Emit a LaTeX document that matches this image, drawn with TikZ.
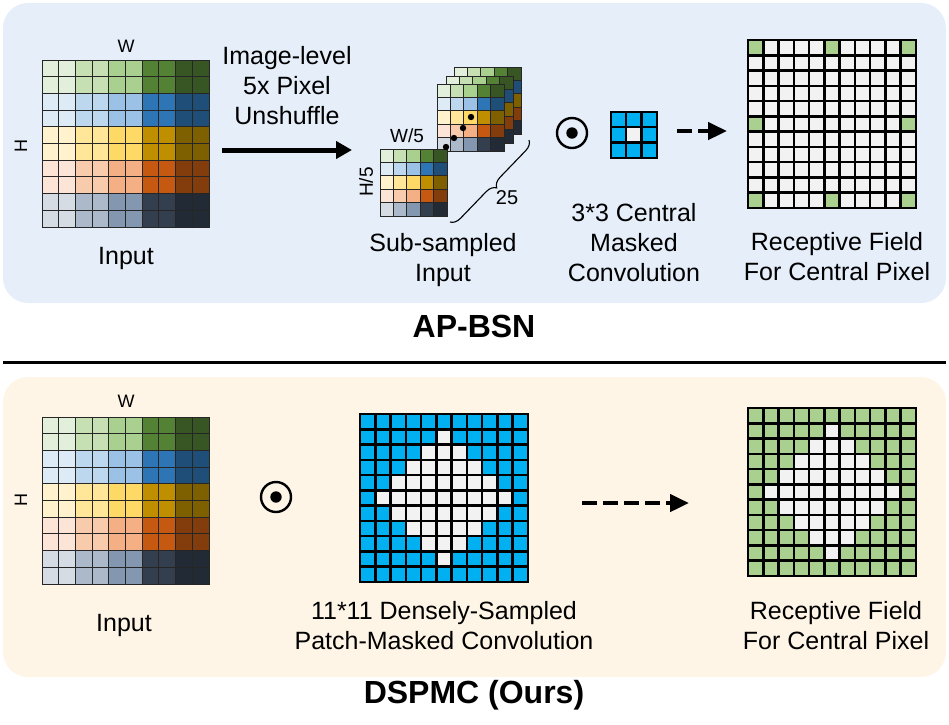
\documentclass[tikz,border=0pt]{standalone}
\usepackage{fontspec}
\setmainfont{Liberation Sans}
\usetikzlibrary{arrows.meta,decorations.pathreplacing}

% image colours: row groups (green, blue, yellow, orange, slate) x 5 shades
\definecolor{gc00}{HTML}{E2EFDA}\definecolor{gc01}{HTML}{C6E0B4}\definecolor{gc02}{HTML}{A9D08E}\definecolor{gc03}{HTML}{548235}\definecolor{gc04}{HTML}{375623}
\definecolor{gc10}{HTML}{DDEBF7}\definecolor{gc11}{HTML}{BDD7EE}\definecolor{gc12}{HTML}{9BC2E6}\definecolor{gc13}{HTML}{2E75B6}\definecolor{gc14}{HTML}{1F4E78}
\definecolor{gc20}{HTML}{FFF2CC}\definecolor{gc21}{HTML}{FFE699}\definecolor{gc22}{HTML}{FFD966}\definecolor{gc23}{HTML}{BF8F00}\definecolor{gc24}{HTML}{7F6000}
\definecolor{gc30}{HTML}{FCE4D6}\definecolor{gc31}{HTML}{F8CBAD}\definecolor{gc32}{HTML}{F4B084}\definecolor{gc33}{HTML}{C65911}\definecolor{gc34}{HTML}{833C0B}
\definecolor{gc40}{HTML}{D6DCE4}\definecolor{gc41}{HTML}{ACB9CA}\definecolor{gc42}{HTML}{8497B0}\definecolor{gc43}{HTML}{333F4F}\definecolor{gc44}{HTML}{222B35}
\definecolor{mskblue}{HTML}{00B0F0}
\definecolor{mskwhite}{HTML}{F2F2F2}
\definecolor{rfgreen}{HTML}{A9D08E}
\definecolor{topbg}{HTML}{E5EEF9}
\definecolor{botbg}{HTML}{FEF5E7}

% 10x10 input image: x, y, cell
\newcommand{\imggrid}[3]{%
  \foreach \r in {0,...,9} {
    \foreach \c in {0,...,9} {
      \pgfmathtruncatemacro{\gr}{\r/2}
      \pgfmathtruncatemacro{\gc}{\c/2}
      \filldraw[fill=gc\gr\gc, draw=black!85, line width=1pt]
        ({#1+\c*#3},{#2+\r*#3}) rectangle ++(#3,#3);
    }
  }
}
% 5x5 sub-sampled image: x, y, cell
\newcommand{\subgrid}[3]{%
  \foreach \r in {0,...,4} {
    \foreach \c in {0,...,4} {
      \filldraw[fill=gc\r\c, draw=black!85, line width=1pt]
        ({#1+\c*#3},{#2+\r*#3}) rectangle ++(#3,#3);
    }
  }
}

\begin{document}
\begin{tikzpicture}[x=1pt,y=-1pt,
  lbl/.style={font=\fontsize{25}{30}\selectfont, align=center, inner sep=0pt},
  small/.style={font=\fontsize{18}{20}\selectfont, inner sep=0pt},
  ttl/.style={font=\fontsize{32}{36}\selectfont\bfseries, inner sep=0pt},
  bigarrow/.style={line width=5pt, -{Triangle[length=16pt,width=17pt]}},
  dasharrow/.style={line width=4.5pt, dash pattern=on 15pt off 6pt, -{Triangle[length=19pt,width=17pt]}},
  mcell/.style={draw=black, line width=2.6pt},
]
\useasboundingbox (0,0) rectangle (949,724);

% panels
\fill[topbg, rounded corners=25pt] (3,3) rectangle (946,303);
\fill[botbg, rounded corners=25pt] (3,377) rectangle (946,677);
\draw[line width=3pt] (3,362) -- (946,362);

%%% AP-BSN
\imggrid{42}{60}{16.7}
\node[small] (wTop) at (126,46) {W};
\node[small, rotate=90] (hTop) at (21,146) {H};
\node[lbl] (inLblA) at (126,258) {Input};

\node[lbl] (unshufLbl) at (287,86) {Image-level\\5x Pixel\\Unshuffle};
\coordinate (unshufS) at (222,150);
\coordinate (unshufE) at (352,150);
\draw[bigarrow] (unshufS) -- (unshufE);

% stack of 25 sub-images
\subgrid{454}{67}{13.4}
\subgrid{446}{76}{13.4}
\subgrid{437}{84}{13.4}
\subgrid{380}{149}{13.4}
\foreach \i/\j in {446/147,454/138,463/128,471/117}
  \fill (\i,\j) circle (3.2pt);
\node[small, font=\fontsize{19}{21}\selectfont] (wSub) at (407,136) {W/5};
\node[small, font=\fontsize{19}{21}\selectfont, rotate=90] (hSub) at (366,182) {H/5};
\coordinate (braceTop) at (529,140);
\coordinate (braceBot) at (450,222);
\draw[line width=1.1pt, decorate, decoration={brace, amplitude=10pt}] (braceTop) -- (braceBot);
\node[small, font=\fontsize{20}{22}\selectfont] (nSub) at (507,198) {25};
\node[lbl] (subLbl) at (443,260) {Sub-sampled\\Input};

\node[draw, circle, line width=2.4pt, minimum size=30pt, inner sep=0pt] (odotA) at (572,133) {};
\fill (odotA.center) circle (5.7pt);

% 3x3 central masked kernel
\foreach \r in {0,1,2} {
  \foreach \c in {0,1,2} {
    \pgfmathtruncatemacro{\ctr}{(\r==1)*(\c==1)}
    \ifnum\ctr=1 \def\cc{mskwhite}\else\def\cc{mskblue}\fi
    \filldraw[mcell, line width=2.2pt, fill=\cc] ({611+\c*15.2},{112+\r*15.2}) rectangle ++(15.2,15.2);
  }
}
\node[lbl] (kerLbl) at (634,243) {3*3 Central\\Masked\\Convolution};

\coordinate (dashAS) at (677,131);
\coordinate (dashAE) at (727,131);
\draw[dasharrow] (dashAS) -- (dashAE);

% receptive field of AP-BSN
\foreach \r in {0,...,10} {
  \foreach \c in {0,...,10} {
    \pgfmathtruncatemacro{\isg}{(mod(\r,5)==0)*(mod(\c,5)==0)*(1-(\r==5)*(\c==5))}
    \ifnum\isg=1 \def\cc{rfgreen}\else\def\cc{mskwhite}\fi
    \filldraw[mcell, fill=\cc] ({748+\c*15.27},{40+\r*15.27}) rectangle ++(15.27,15.27);
  }
}
\node[lbl] (rfLblA) at (837,257) {Receptive Field\\For Central Pixel};

\node[ttl] (titleA) at (474,326) {AP-BSN};

%%% DSPMC
\imggrid{42}{417}{16.7}
\node[small] (wBot) at (126,401) {W};
\node[small, rotate=90] (hBot) at (21,500) {H};
\node[lbl] (inLblB) at (124,625) {Input};

\node[draw, circle, line width=2.4pt, minimum size=30pt, inner sep=0pt] (odotB) at (276,497) {};
\fill (odotB.center) circle (5.7pt);

% 11x11 densely-sampled patch mask
\foreach \r in {0,...,10} {
  \foreach \c in {0,...,10} {
    \pgfmathtruncatemacro{\dd}{abs(\r-5)+abs(\c-5)}
    \ifnum\dd<5 \def\cc{mskwhite}\else\def\cc{mskblue}\fi
    \filldraw[mcell, fill=\cc] ({360+\c*15.27},{414+\r*15.27}) rectangle ++(15.27,15.27);
  }
}
\node[lbl] (maskLbl) at (444,626) {11*11 Densely-Sampled\\Patch-Masked Convolution};

\coordinate (dashBS) at (582,503);
\coordinate (dashBE) at (689,503);
\draw[dasharrow] (dashBS) -- (dashBE);

% receptive field of DSPMC
\foreach \r in {0,...,10} {
  \foreach \c in {0,...,10} {
    \pgfmathtruncatemacro{\dd}{abs(\r-5)+abs(\c-5)}
    \ifnum\dd<5 \def\cc{mskwhite}\else\def\cc{rfgreen}\fi
    \filldraw[mcell, fill=\cc] ({748+\c*15.27},{408+\r*15.27}) rectangle ++(15.27,15.27);
  }
}
\node[lbl] (rfLblB) at (836,626) {Receptive Field\\For Central Pixel};

\node[ttl] (titleB) at (474,695) {DSPMC (Ours)};
\end{tikzpicture}
\end{document}
